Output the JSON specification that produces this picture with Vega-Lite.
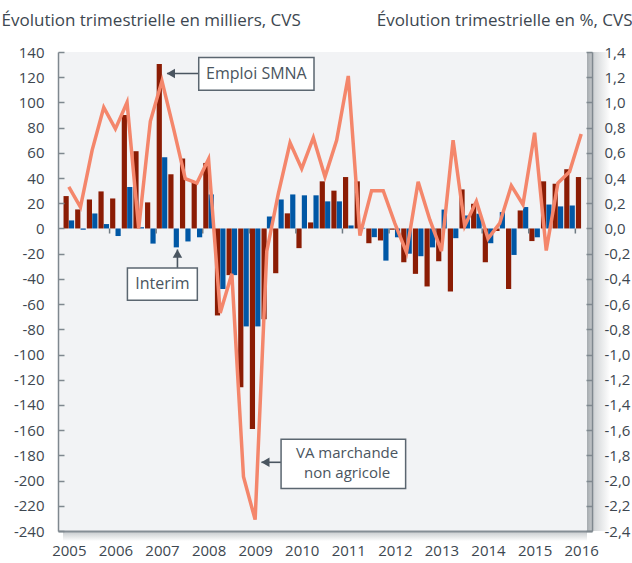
{
  "$schema": "https://vega.github.io/schema/vega-lite/v6.json",
  "width": 534,
  "height": 479,
  "autosize": {"type": "none"},
  "padding": {"left": 58, "top": 52, "right": 40, "bottom": 32},
  "background": "white",
  "config": {
    "font": "Open Sans",
    "view": {"fill": "#f2f3f5", "stroke": null},
    "locale": {"number": {"decimal": ",", "thousands": " ", "grouping": [3], "currency": ["", " €"], "minus": "-"}}
  },
  "datasets": {
    "trim": [
      {"date": 2005.125, "smna": 25.7, "interim": 6.4, "va": 0.33},
      {"date": 2005.375, "smna": 15.1, "interim": -1, "va": 0.17},
      {"date": 2005.625, "smna": 23, "interim": 11.9, "va": 0.62},
      {"date": 2005.875, "smna": 29.4, "interim": 3.5, "va": 0.96},
      {"date": 2006.125, "smna": 23.8, "interim": -6, "va": 0.79},
      {"date": 2006.375, "smna": 90, "interim": 32.9, "va": 1.0},
      {"date": 2006.625, "smna": 61.3, "interim": 1, "va": 0.0},
      {"date": 2006.875, "smna": 20.7, "interim": -12, "va": 0.85},
      {"date": 2007.125, "smna": 130.5, "interim": 56.5, "va": 1.17},
      {"date": 2007.375, "smna": 43, "interim": -15, "va": 0.79},
      {"date": 2007.625, "smna": 55.5, "interim": -10.3, "va": 0.395},
      {"date": 2007.875, "smna": 37, "interim": -7, "va": 0.36},
      {"date": 2008.125, "smna": 52, "interim": 27, "va": 0.55},
      {"date": 2008.375, "smna": -69, "interim": -48, "va": -0.67},
      {"date": 2008.625, "smna": -37, "interim": -37, "va": -0.36},
      {"date": 2008.875, "smna": -126, "interim": -77.7, "va": -1.97},
      {"date": 2009.125, "smna": -159, "interim": -77.7, "va": -2.31},
      {"date": 2009.375, "smna": -72, "interim": 9.5, "va": -0.18},
      {"date": 2009.625, "smna": -35.5, "interim": 23, "va": 0.28},
      {"date": 2009.875, "smna": 12, "interim": 27, "va": 0.68},
      {"date": 2010.125, "smna": -15.6, "interim": 26.3, "va": 0.475},
      {"date": 2010.375, "smna": 4.8, "interim": 26.3, "va": 0.72},
      {"date": 2010.625, "smna": 37.4, "interim": 21.5, "va": 0.41},
      {"date": 2010.875, "smna": 30, "interim": 21.5, "va": 0.70},
      {"date": 2011.125, "smna": 40.8, "interim": 2.4, "va": 1.21},
      {"date": 2011.375, "smna": 37.4, "interim": 0.5, "va": -0.056},
      {"date": 2011.625, "smna": -11.7, "interim": -6.9, "va": 0.30},
      {"date": 2011.875, "smna": -9.5, "interim": -25.5, "va": 0.30},
      {"date": 2012.125, "smna": -1, "interim": -7, "va": 0.04},
      {"date": 2012.375, "smna": -26.8, "interim": -20, "va": -0.19},
      {"date": 2012.625, "smna": -36, "interim": -22, "va": 0.37},
      {"date": 2012.875, "smna": -46, "interim": -15, "va": 0.07},
      {"date": 2013.125, "smna": -26, "interim": 15, "va": -0.18},
      {"date": 2013.375, "smna": -50, "interim": -7.7, "va": 0.70},
      {"date": 2013.625, "smna": 31, "interim": 10.3, "va": 0.02},
      {"date": 2013.875, "smna": 19.6, "interim": 11.7, "va": 0.215},
      {"date": 2014.125, "smna": -26.8, "interim": -11.7, "va": -0.08},
      {"date": 2014.375, "smna": -2, "interim": 13, "va": 0.04},
      {"date": 2014.625, "smna": -48, "interim": -21, "va": 0.34},
      {"date": 2014.875, "smna": 14.3, "interim": 17, "va": 0.19},
      {"date": 2015.125, "smna": -10, "interim": -7, "va": 0.76},
      {"date": 2015.375, "smna": 37.4, "interim": 19, "va": -0.175},
      {"date": 2015.625, "smna": 35.5, "interim": 17.5, "va": 0.36},
      {"date": 2015.875, "smna": 47, "interim": 18.3, "va": 0.45},
      {"date": 2016.125, "smna": 40.8, "interim": null, "va": 0.75}
    ]
  },
  "resolve": {"scale": {"y": "independent"}, "axis": {"x": "independent"}},
  "layer": [
    {
      "data": {"values": [{"debut": 2016.25, "fin": 2016.75, "bas": -240, "haut": 140}]},
      "mark": {"type": "rect", "fill": {"gradient": "linear", "x1": 0, "y1": 0, "x2": 1, "y2": 0, "stops": [{"offset": 0, "color": "#a6abaf"}, {"offset": 0.35, "color": "#d5d8da"}, {"offset": 1, "color": "#ffffff"}]}},
      "encoding": {
        "x": {"field": "debut", "type": "quantitative", "axis": null},
        "x2": {"field": "fin"},
        "y": {"field": "bas", "type": "quantitative", "scale": {"domain": [-240, 140], "nice": false}, "axis": null},
        "y2": {"field": "haut"}
      }
    },
    {
      "data": {"values": [{"debut": 2005, "fin": 2016.25, "bas": -248, "haut": -240}]},
      "mark": {"type": "rect", "fill": {"gradient": "linear", "x1": 0, "y1": 0, "x2": 0, "y2": 1, "stops": [{"offset": 0, "color": "#c3c7ca"}, {"offset": 1, "color": "#ffffff"}]}},
      "encoding": {
        "x": {"field": "debut", "type": "quantitative", "axis": null},
        "x2": {"field": "fin"},
        "y": {"field": "bas", "type": "quantitative", "scale": {"domain": [-240, 140], "nice": false}, "axis": null},
        "y2": {"field": "haut"}
      }
    },
    {
      "data": {"name": "trim"},
      "mark": {"type": "bar", "color": "#8b1c04", "width": 5.2, "xOffset": -2.7},
      "encoding": {
        "x": {
          "field": "date", "type": "quantitative",
          "scale": {"domain": [2005, 2016.25], "nice": false, "zero": false},
          "axis": {
            "orient": "bottom", "title": null, "grid": false, "ticks": false, "domain": true, "zindex": 1,
            "values": [2005.125, 2006.125, 2007.125, 2008.125, 2009.125, 2010.125, 2011.125, 2012.125, 2013.125, 2014.125, 2015.125, 2016.125],
            "labelExpr": "'' + floor(datum.value)", "labelOverlap": false, "labelFlush": false,
            "labelFontSize": 15, "labelColor": "#3d4750", "labelPadding": 12,
            "domainColor": "#858e95", "domainWidth": 2
          }
        },
        "y": {
          "field": "smna", "type": "quantitative",
          "scale": {"domain": [-240, 140], "nice": false},
          "axis": {
            "orient": "left", "grid": false, "format": "d", "zindex": 1,
            "values": [-240, -220, -200, -180, -160, -140, -120, -100, -80, -60, -40, -20, 0, 20, 40, 60, 80, 100, 120, 140],
            "labelFontSize": 15, "labelColor": "#3d4750", "labelPadding": 20,
            "tickSize": -6, "tickColor": "#7f888f", "tickWidth": 1.5,
            "domainColor": "#7f888f", "domainWidth": 1.5,
            "title": "Évolution trimestrielle en milliers, CVS",
            "titleAngle": 0, "titleAlign": "left", "titleBaseline": "alphabetic",
            "titleX": -57, "titleY": -27, "titleFontSize": 17, "titleFontWeight": "normal", "titleColor": "#3d4750"
          }
        }
      }
    },
    {
      "data": {"name": "trim"},
      "mark": {"type": "bar", "color": "#0057a5", "width": 5.2, "xOffset": 2.7},
      "encoding": {
        "x": {"field": "date", "type": "quantitative", "axis": null},
        "y": {"field": "interim", "type": "quantitative", "scale": {"domain": [-240, 140], "nice": false}, "axis": null}
      }
    },
    {
      "mark": {"type": "rule", "color": "#6f7a83", "strokeWidth": 1.6},
      "encoding": {
        "y": {"datum": 0, "type": "quantitative", "scale": {"domain": [-240, 140], "nice": false}, "axis": null}
      }
    },
    {
      "data": {"values": [{"annee": 2006}, {"annee": 2007}, {"annee": 2008}, {"annee": 2009}, {"annee": 2010}, {"annee": 2011}, {"annee": 2012}, {"annee": 2013}, {"annee": 2014}, {"annee": 2015}, {"annee": 2016}]},
      "mark": {"type": "rule", "color": "#6f7a83", "strokeWidth": 1.5},
      "encoding": {
        "x": {"field": "annee", "type": "quantitative", "axis": null},
        "y": {"datum": 0, "type": "quantitative", "scale": {"domain": [-240, 140], "nice": false}, "axis": null},
        "y2": {"datum": -4}
      }
    },
    {
      "data": {"name": "trim"},
      "mark": {"type": "line", "color": "#f4866b", "strokeWidth": 3.5},
      "encoding": {
        "x": {"field": "date", "type": "quantitative", "axis": null},
        "y": {
          "field": "va", "type": "quantitative",
          "scale": {"domain": [-2.4, 1.4], "nice": false},
          "axis": {
            "orient": "right", "grid": false, "format": ".1f", "zindex": 1,
            "values": [-2.4, -2.2, -2.0, -1.8, -1.6, -1.4, -1.2, -1.0, -0.8, -0.6, -0.4, -0.2, 0, 0.2, 0.4, 0.6, 0.8, 1.0, 1.2, 1.4],
            "labelFontSize": 15, "labelColor": "#3d4750", "labelPadding": 18,
            "tickSize": -6, "tickColor": "#7f888f", "tickWidth": 1.5,
            "domainColor": "#7f888f", "domainWidth": 1.5,
            "title": "Évolution trimestrielle en %, CVS",
            "titleAngle": 0, "titleAlign": "right", "titleBaseline": "alphabetic",
            "titleX": 40, "titleY": -27, "titleFontSize": 17, "titleFontWeight": "normal", "titleColor": "#3d4750"
          }
        }
      }
    },
    {
      "data": {"values": [
        {"x1": 2007.232, "x2": 2007.914, "y1": 122.9, "y2": 122.9},
        {"x1": 2007.457, "x2": 2007.457, "y1": -16.7, "y2": -31.3},
        {"x1": 2009.261, "x2": 2009.682, "y1": -185.5, "y2": -185.5}
      ]},
      "mark": {"type": "rule", "color": "#4a5560", "strokeWidth": 1.6},
      "encoding": {
        "x": {"field": "x1", "type": "quantitative", "axis": null},
        "x2": {"field": "x2"},
        "y": {"field": "y1", "type": "quantitative", "scale": {"domain": [-240, 140], "nice": false}, "axis": null},
        "y2": {"field": "y2"}
      }
    },
    {
      "data": {"values": [
        {"x": 2007.316, "y": 122.9},
        {"x": 2009.345, "y": -185.5}
      ]},
      "mark": {"type": "point", "shape": "triangle-left", "filled": true, "opacity": 1, "color": "#4a5560", "size": 90},
      "encoding": {
        "x": {"field": "x", "type": "quantitative", "axis": null},
        "y": {"field": "y", "type": "quantitative", "scale": {"domain": [-240, 140], "nice": false}, "axis": null}
      }
    },
    {
      "data": {"values": [
        {"x": 2007.457, "y": -19.9}
      ]},
      "mark": {"type": "point", "shape": "triangle-up", "filled": true, "opacity": 1, "color": "#4a5560", "size": 90},
      "encoding": {
        "x": {"field": "x", "type": "quantitative", "axis": null},
        "y": {"field": "y", "type": "quantitative", "scale": {"domain": [-240, 140], "nice": false}, "axis": null}
      }
    },
    {
      "data": {"values": [
        {"x1": 2007.914, "x2": 2010.389, "y1": 135.6, "y2": 109.6},
        {"x1": 2006.383, "x2": 2007.884, "y1": -31.3, "y2": -57},
        {"x1": 2009.682, "x2": 2012.356, "y1": -167.2, "y2": -206.3}
      ]},
      "mark": {"type": "rect", "fill": "white", "stroke": "#5b6670", "strokeWidth": 1.5},
      "encoding": {
        "x": {"field": "x1", "type": "quantitative", "axis": null},
        "x2": {"field": "x2"},
        "y": {"field": "y1", "type": "quantitative", "scale": {"domain": [-240, 140], "nice": false}, "axis": null},
        "y2": {"field": "y2"}
      }
    },
    {
      "data": {"values": [
        {"x": 2009.152, "y": 122.6, "texte": "Emploi SMNA"},
        {"x": 2007.135, "y": -44.3, "texte": "Interim"}
      ]},
      "mark": {"type": "text", "fontSize": 16, "color": "#4a5560", "align": "center", "baseline": "middle"},
      "encoding": {
        "x": {"field": "x", "type": "quantitative", "axis": null},
        "y": {"field": "y", "type": "quantitative", "scale": {"domain": [-240, 140], "nice": false}, "axis": null},
        "text": {"field": "texte", "type": "nominal"}
      }
    },
    {
      "data": {"values": [
        {"x": 2011.099, "y": -177.9, "texte": "VA marchande"},
        {"x": 2011.099, "y": -194.2, "texte": "non agricole"}
      ]},
      "mark": {"type": "text", "fontSize": 15, "color": "#4a5560", "align": "center", "baseline": "middle"},
      "encoding": {
        "x": {"field": "x", "type": "quantitative", "axis": null},
        "y": {"field": "y", "type": "quantitative", "scale": {"domain": [-240, 140], "nice": false}, "axis": null},
        "text": {"field": "texte", "type": "nominal"}
      }
    }
  ]
}
